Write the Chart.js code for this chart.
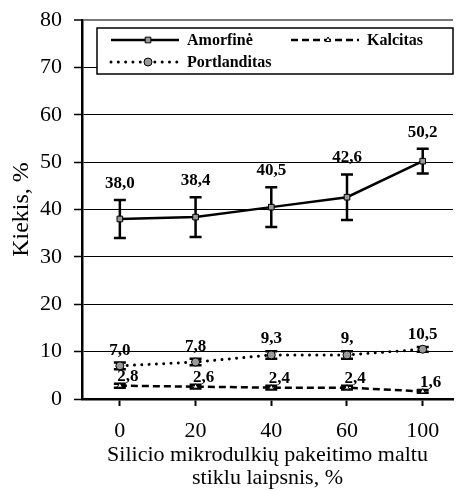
<!DOCTYPE html>
<html>
<head>
<meta charset="utf-8">
<script src="https://cdn.jsdelivr.net/npm/chart.js@4.4.1/dist/chart.umd.min.js"></script>
<style>
  html, body { margin: 0; padding: 0; background: #fff; }
  #chart { display: block; }
</style>
</head>
<body>
<canvas id="chart" width="458" height="491"></canvas>
<script>
// categories (replacement degree, %)
const categories = ['0', '20', '40', '60', '100'];
const yTicks = [0, 10, 20, 30, 40, 50, 60, 70, 80];

// series values
const amorfine = [38.0, 38.4, 40.5, 42.6, 50.2];
const amorfineErr = [4.0, 4.2, 4.2, 4.8, 2.6];
const amorfineLabels = ['38,0', '38,4', '40,5', '42,6', '50,2'];

const kalcitas = [2.8, 2.6, 2.4, 2.4, 1.6];
const kalcitasErr = [0.4, 0.4, 0.4, 0.4, 0.3];
const kalcitasLabels = ['2,8', '2,6', '2,4', '2,4', '1,6'];

const portlanditas = [7.0, 7.8, 9.3, 9.3, 10.5];
const portlanditasErr = [0.7, 0.7, 0.8, 0.8, 0.5];
const portlanditasLabels = ['7,0', '7,8', '9,3', '9,', '10,5'];

const serif = '"Liberation Serif", "Times New Roman", serif';

function toPoints(values) {
    return values.map(function (v, i) { return { x: i, y: v }; });
}

// error bars drawn under the markers, value labels over them
const errorBars = {
    id: 'errorBars',
    beforeDatasetsDraw: function (chart) {
        const ctx = chart.ctx;
        const x = chart.scales.x, y = chart.scales.y;
        ctx.save();
        ctx.strokeStyle = '#000';
        chart.data.datasets.forEach(function (ds) {
            ds.data.forEach(function (p, i) {
                const px = x.getPixelForValue(p.x);
                const top = y.getPixelForValue(p.y + ds.err[i]);
                const bot = y.getPixelForValue(p.y - ds.err[i]);
                ctx.lineWidth = 2.5;
                ctx.beginPath();
                ctx.moveTo(px, top); ctx.lineTo(px, bot);
                ctx.moveTo(px - 6, top); ctx.lineTo(px + 6, top);
                ctx.moveTo(px - 6, bot); ctx.lineTo(px + 6, bot);
                ctx.stroke();
            });
        });
        ctx.restore();
    },
    afterDatasetsDraw: function (chart) {
        const ctx = chart.ctx;
        const x = chart.scales.x, y = chart.scales.y;
        ctx.save();
        ctx.fillStyle = '#000';
        ctx.font = 'bold 17px ' + serif;
        ctx.textAlign = 'center';
        ctx.textBaseline = 'alphabetic';
        chart.data.datasets.forEach(function (ds) {
            ds.data.forEach(function (p, i) {
                const px = x.getPixelForValue(p.x) + ds.labelDx;
                const top = y.getPixelForValue(p.y + ds.err[i]);
                ctx.fillText(ds.valueLabels[i], px, top - ds.labelDy);
            });
        });
        ctx.restore();
    }
};

// legend box inside the plot
const boxLegend = {
    id: 'boxLegend',
    afterDraw: function (chart) {
        const ctx = chart.ctx;
        const ds = chart.data.datasets;
        ctx.save();
        ctx.fillStyle = '#fff';
        ctx.fillRect(97, 28, 356, 46);
        ctx.strokeStyle = '#000';
        ctx.lineWidth = 1.5;
        ctx.strokeRect(97, 28, 356, 46);

        const items = [
            { d: ds[0], x: 111, y: 40 },
            { d: ds[1], x: 291, y: 40 },
            { d: ds[2], x: 111, y: 62 }
        ];
        items.forEach(function (it) {
            const d = it.d;
            ctx.strokeStyle = '#000';
            ctx.lineWidth = d.borderWidth;
            ctx.lineCap = d.borderCapStyle || 'butt';
            ctx.setLineDash(d.borderDash || []);
            ctx.beginPath();
            ctx.moveTo(it.x, it.y);
            ctx.lineTo(it.x + 68, it.y);
            ctx.stroke();
            ctx.setLineDash([]);
            ctx.lineCap = 'butt';
            ctx.lineWidth = 1;
            ctx.fillStyle = d.pointBackgroundColor;
            Chart.helpers.drawPoint(ctx, {
                pointStyle: d.pointStyle,
                radius: d.pointRadius,
                borderWidth: 1
            }, it.x + 37, it.y);
            ctx.fillStyle = '#000';
            ctx.font = 'bold 16px ' + serif;
            ctx.textAlign = 'left';
            ctx.textBaseline = 'middle';
            ctx.fillText(d.label, it.x + 76, it.y + 1);
        });
        ctx.restore();
    }
};

const ctx = document.getElementById('chart').getContext('2d');
const chart = new Chart(ctx, {
    type: 'line',
    data: {
        datasets: [{
            label: 'Amorfinė',
            data: toPoints(amorfine),
            err: amorfineErr,
            valueLabels: amorfineLabels,
            labelDx: 0,
            labelDy: 12,
            borderColor: '#000',
            borderWidth: 2.5,
            pointStyle: 'rect',
            pointRadius: 4,
            pointBackgroundColor: '#999',
            pointBorderColor: '#000',
            pointBorderWidth: 1
        }, {
            label: 'Kalcitas',
            data: toPoints(kalcitas),
            err: kalcitasErr,
            valueLabels: kalcitasLabels,
            labelDx: 8,
            labelDy: 3,
            borderColor: '#000',
            borderWidth: 2.5,
            borderDash: [7, 4],
            pointStyle: 'triangle',
            pointRadius: 3,
            pointBackgroundColor: '#fff',
            pointBorderColor: '#000',
            pointBorderWidth: 1
        }, {
            label: 'Portlanditas',
            data: toPoints(portlanditas),
            err: portlanditasErr,
            valueLabels: portlanditasLabels,
            labelDx: 0,
            labelDy: 8,
            borderColor: '#000',
            borderWidth: 3,
            borderDash: [0.01, 7.3],
            borderCapStyle: 'round',
            pointStyle: 'circle',
            pointRadius: 4,
            pointBackgroundColor: '#999',
            pointBorderColor: '#000',
            pointBorderWidth: 1
        }]
    },
    options: {
        responsive: false,
        animation: false,
        layout: { padding: { top: 20, right: 0, left: 0, bottom: 0 } },
        plugins: {
            legend: { display: false },
            tooltip: { enabled: false }
        },
        scales: {
            x: {
                type: 'linear',
                min: -0.5,
                max: 4.4,
                afterBuildTicks: function (scale) {
                    scale.ticks = categories.map(function (c, i) { return { value: i }; });
                },
                afterFit: function (scale) { scale.height = 92; },
                ticks: {
                    color: '#000',
                    font: { family: serif, size: 22 },
                    padding: 12,
                    maxRotation: 0,
                    callback: function (v) { return categories[v]; }
                },
                grid: {
                    drawOnChartArea: false,
                    drawTicks: true,
                    tickLength: 7,
                    tickWidth: 2,
                    color: '#000'
                },
                border: { color: '#000', width: 2.5 },
                title: {
                    display: true,
                    text: ['Silicio mikrodulkių pakeitimo maltu', 'stiklu laipsnis, %'],
                    color: '#000',
                    font: { family: serif, size: 22, lineHeight: 1.05 },
                    padding: { top: 0, bottom: 1 }
                }
            },
            y: {
                min: 0,
                max: 80,
                afterBuildTicks: function (scale) {
                    scale.ticks = yTicks.map(function (v) { return { value: v }; });
                },
                afterFit: function (scale) {
                    scale.width = 82;
                    scale.paddingTop = 0;
                    scale.paddingBottom = 0;
                },
                ticks: {
                    color: '#000',
                    font: { family: serif, size: 22 },
                    padding: 12
                },
                grid: {
                    color: function (c) { return c.tick && c.tick.value === 80 ? '#777' : '#000'; },
                    lineWidth: function (c) { return c.tick && c.tick.value === 80 ? 2 : 1; },
                    tickColor: '#000',
                    tickLength: 8,
                    tickWidth: 1.5
                },
                border: { color: '#000', width: 2.5 },
                title: {
                    display: true,
                    text: 'Kiekis, %',
                    color: '#000',
                    font: { family: serif, size: 24 },
                    padding: { top: 7, bottom: 0 }
                }
            }
        }
    },
    plugins: [errorBars, boxLegend]
});
</script>
</body>
</html>
